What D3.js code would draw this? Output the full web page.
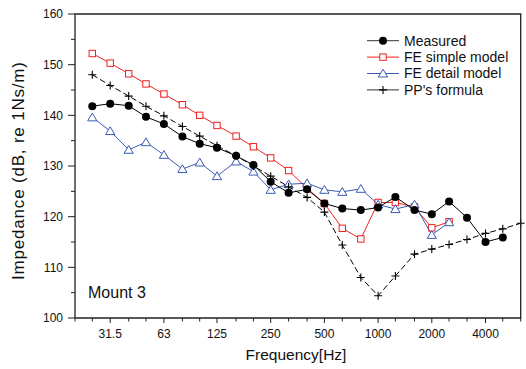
<!DOCTYPE html>
<html>
<head>
<meta charset="utf-8">
<script src="https://cdn.jsdelivr.net/npm/d3@7"></script>
<style>
  body { margin: 0; background: #fff; }
  text { font-family: "Liberation Sans", Arial, sans-serif; fill: #111; }
</style>
</head>
<body>
<svg class="chart"></svg>
<script>
// 1/3 octave band centres (Hz)
var bands = [25, 31.5, 40, 50, 63, 80, 100, 125, 160, 200, 250, 315, 400, 500, 630, 800, 1000, 1250, 1600, 2000, 2500, 3150, 4000, 5000];
var ppBands = [25, 31.5, 40, 50, 63, 80, 100, 125, 160, 200, 250, 315, 400, 500, 630, 800, 1000, 1250, 1600, 2000, 2500, 3150, 4000, 5000, 6300];
var tickBands = [20, 25, 31.5, 40, 50, 63, 80, 100, 125, 160, 200, 250, 315, 400, 500, 630, 800, 1000, 1250, 1600, 2000, 2500, 3150, 4000, 5000, 6300];
var tickLabels = ["31.5", "63", "125", "250", "500", "1000", "2000", "4000"];

// impedance values, dB re 1Ns/m
var measured = [141.8, 142.3, 141.9, 139.7, 138.3, 135.8, 134.4, 133.6, 132.0, 130.2, 126.9, 124.7, 125.4, 122.6, 121.6, 121.3, 121.8, 123.9, 121.3, 120.5, 123.0, 119.8, 115.0, 115.9];
var feSimple = [152.2, 150.3, 148.2, 146.2, 144.2, 142.1, 140.0, 138.0, 135.9, 133.8, 131.6, 129.1, 125.6, 122.6, 117.7, 115.6, 122.8, 122.8, 121.9, 117.8, 119.0];
var feDetail = [139.6, 136.9, 133.2, 134.7, 132.2, 129.4, 130.7, 128.0, 130.9, 128.9, 125.3, 126.4, 126.6, 125.3, 124.9, 125.5, 122.4, 121.5, 122.4, 116.4, 118.9];
var ppFormula = [148.0, 145.9, 143.8, 141.8, 139.9, 137.8, 135.9, 134.0, 132.0, 130.0, 128.0, 125.9, 123.8, 120.9, 114.4, 108.0, 104.4, 108.3, 112.6, 113.6, 114.5, 115.5, 116.7, 117.6, 118.7];

var legendNames = ["Measured", "FE simple model", "FE detail model", "PP's formula"];

var Width = 526, Height = 369;
var plotLeft = 75, plotRight = 520.7, plotTop = 14, plotBottom = 318;

var chart = d3.select(".chart")
    .attr("width", Width)
    .attr("height", Height);

var x = d3.scaleLog().domain([20, 6300]).range([plotLeft, plotRight]);
var y = d3.scaleLinear().domain([100, 160]).range([plotBottom, plotTop]);

var red = "#f02020", blue = "#3a5cb5";

// drawn bottom to top
var series = [
  {name: legendNames[1], xs: bands, ys: feSimple, color: red, marker: "square", dash: null},
  {name: legendNames[2], xs: bands, ys: feDetail, color: blue, marker: "triangle", dash: null},
  {name: legendNames[3], xs: ppBands, ys: ppFormula, color: "#000", marker: "plus", dash: "6,3"},
  {name: legendNames[0], xs: bands, ys: measured, color: "#000", marker: "circle", dash: null}
];

var line = d3.line()
    .x(function(d) { return x(d[0]); })
    .y(function(d) { return y(d[1]); });

function drawMarker(g, type, color) {
  if (type == "circle") {
    g.append("circle").attr("r", 4).attr("fill", "#000");
  } else if (type == "square") {
    g.append("rect").attr("x", -3.2).attr("y", -3.2).attr("width", 6.4).attr("height", 6.4)
      .attr("fill", "#fff").attr("stroke", color).attr("stroke-width", 1);
  } else if (type == "triangle") {
    g.append("path").attr("d", "M0,-4.3L4.6,3.5L-4.6,3.5Z")
      .attr("fill", "#fff").attr("stroke", color).attr("stroke-width", 1);
  } else {
    g.append("path").attr("d", "M-4,0H4M0,-4V4")
      .attr("stroke", "#000").attr("stroke-width", 1.1);
  }
}

series.forEach(function(s) {
  var pts = s.ys.map(function(v, i) { return [s.xs[i], v]; });
  chart.append("path")
      .attr("d", line(pts))
      .attr("fill", "none")
      .attr("stroke", s.color)
      .attr("stroke-width", 1)
      .attr("stroke-dasharray", s.dash);
  pts.forEach(function(p) {
    var g = chart.append("g")
        .attr("transform", "translate(" + x(p[0]) + "," + y(p[1]) + ")");
    drawMarker(g, s.marker, s.color);
  });
});

// frame
chart.append("path")
    .attr("d", "M" + plotLeft + "," + plotBottom + "V" + plotTop + "H" + plotRight + "V" + plotBottom + "H" + plotLeft)
    .attr("fill", "none")
    .attr("stroke", "#222")
    .attr("stroke-width", 1.3);

// x axis ticks
chart.selectAll(".xtick")
    .data(tickBands)
    .enter().append("line")
    .attr("x1", function(d) { return x(d); })
    .attr("x2", function(d) { return x(d); })
    .attr("y1", plotBottom)
    .attr("y2", function(d) { return tickLabels.indexOf(String(d)) >= 0 ? plotBottom + 5 : plotBottom + 3.5; })
    .attr("stroke", "#222");

chart.selectAll(".xlabel")
    .data(tickLabels)
    .enter().append("text")
    .attr("x", function(d) { return x(+d); })
    .attr("y", 337.5)
    .attr("text-anchor", "middle")
    .style("font-size", "12px")
    .text(function(d) { return d; });

// y axis ticks
var yTicks = d3.range(100, 161, 5);
chart.selectAll(".ytick")
    .data(yTicks)
    .enter().append("line")
    .attr("x1", plotLeft)
    .attr("x2", function(d) { return d % 10 == 0 ? plotLeft - 7 : plotLeft - 4; })
    .attr("y1", function(d) { return y(d); })
    .attr("y2", function(d) { return y(d); })
    .attr("stroke", "#222");

chart.selectAll(".ylabel")
    .data(yTicks.filter(function(d) { return d % 10 == 0; }))
    .enter().append("text")
    .attr("x", 63)
    .attr("y", function(d) { return y(d); })
    .attr("dy", ".35em")
    .attr("text-anchor", "end")
    .style("font-size", "12px")
    .text(function(d) { return d; });

// axis titles
chart.append("text")
    .attr("x", 296)
    .attr("y", 360)
    .attr("text-anchor", "middle")
    .style("font-size", "15.5px")
    .text("Frequency[Hz]");

chart.append("text")
    .attr("transform", "translate(24,171) rotate(-90)")
    .attr("text-anchor", "middle")
    .style("font-size", "17px")
    .attr("textLength", 218)
    .attr("lengthAdjust", "spacing")
    .text("Impedance (dB, re 1Ns/m)");

chart.append("text")
    .attr("x", 88)
    .attr("y", 298)
    .style("font-size", "16px")
    .text("Mount 3");

// legend
var legendSeries = [series[3], series[0], series[1], series[2]];
var legend = chart.selectAll(".legend")
    .data(legendSeries)
    .enter().append("g")
    .attr("transform", function(d, i) { return "translate(367," + (40.7 + i * 16.4) + ")"; });

legend.append("line")
    .attr("x1", 0).attr("x2", 32)
    .attr("stroke", function(d) { return d.color == "#000" ? "#333" : d.color; })
    .attr("stroke-width", 1);

legend.each(function(d) {
  var g = d3.select(this).append("g").attr("transform", "translate(16,0)");
  drawMarker(g, d.marker, d.color);
});

legend.append("text")
    .attr("x", 37)
    .attr("dy", ".35em")
    .style("font-size", "14px")
    .text(function(d) { return d.name; });
</script>
</body>
</html>
